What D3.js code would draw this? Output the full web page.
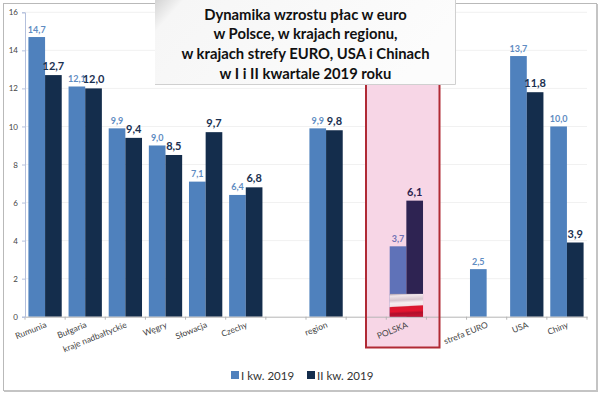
<!DOCTYPE html>
<html><head><meta charset="utf-8">
<script src="https://cdn.jsdelivr.net/npm/d3@7"></script>
<style>html,body{margin:0;padding:0;background:#fff}svg{display:block}text{font-family:Lato,"Open Sans",sans-serif}</style>
</head><body><div id="c"></div>
<script>
const categories=["Rumunia","Bułgaria","kraje nadbałtyckie","Węgry","Słowacja","Czechy","","region","","POLSKA","","strefa EURO","USA","Chiny"];
const q1Values=[14.7,12.1,9.9,9.0,7.1,6.4,null,9.9,null,3.7,null,2.5,13.7,10.0];
const q2Values=[12.7,12.0,9.4,8.5,9.7,6.8,null,9.8,null,6.1,null,null,11.8,3.9];
const seriesNames=["I kw. 2019","II kw. 2019"];
const yTicks=[0,2,4,6,8,10,12,14,16];
const titleLines=["Dynamika wzrostu płac w euro","w Polsce, w krajach regionu,","w krajach strefy EURO, USA i Chinach","w I i II kwartale 2019 roku"];
const highlightName="POLSKA";
const flagHeightValue=1.2;

const W=600,H=393;
const svg=d3.select("#c").append("svg").attr("width",W).attr("height",H);
const defs=svg.append("defs");
const sg=defs.append("linearGradient").attr("id","sh").attr("x1",0).attr("x2",1).attr("y1",0).attr("y2",0.25);
sg.append("stop").attr("offset",0).attr("stop-color","#d4d4d4");
sg.append("stop").attr("offset",0.09).attr("stop-color","#f6f6f6");
sg.append("stop").attr("offset",1).attr("stop-color","#fcfcfc");
const fg=defs.append("linearGradient").attr("id","flag").attr("x1",0).attr("x2",0.08).attr("y1",0).attr("y2",1);
[[0,"#a698a8"],[0.1,"#f1e6ea"],[0.3,"#d6c6cf"],[0.42,"#f6edf0"],[0.55,"#f2e4e8"],[0.6,"#d8182f"],[0.78,"#e5142f"],[0.88,"#b0102c"],[1,"#c41230"]]
 .forEach(([o,c])=>fg.append("stop").attr("offset",o).attr("stop-color",c));

const x=d3.scaleBand().domain(d3.range(categories.length)).range([25,587]);
const y=d3.scaleLinear().domain([0,16]).range([316.7,12.3]);
const sub=d3.scaleBand().domain([0,1]).range([0,x.bandwidth()]).paddingOuter(0.205).paddingInner(0);
const colors=["#4f81bd","#142d4c"];
const hiColors=["#5f72b8","#2e2352"];
const labelColors=["#5f8cc2","#1a3050"];
const hi=categories.indexOf(highlightName);

// frame
svg.append("rect").attr("x",3.5).attr("y",3.5).attr("width",593).attr("height",387).attr("fill","#fff").attr("stroke","#b9b9b9").attr("stroke-width",1);
svg.append("path").attr("d","M4 391H597V4").attr("fill","none").attr("stroke","#c4c4c4").attr("stroke-width",2);

// grid
svg.append("g").selectAll("line").data(yTicks.filter(d=>d>0)).join("line")
 .attr("x1",25).attr("x2",587).attr("y1",d=>y(d)).attr("y2",d=>y(d)).attr("stroke","#f1f1f1");

// highlight fill
svg.append("rect").attr("x",366).attr("y",60).attr("width",73.5).attr("height",287.5).attr("fill","#f7d6e6");

// bars
const s0=svg.append("g"),data=[q1Values,q2Values];
data.forEach((vals,s)=>{
 s0.append("g").selectAll("rect").data(vals.map((v,i)=>({v,i})).filter(d=>d.v!=null)).join("rect")
  .attr("x",d=>x(d.i)+sub(s)).attr("width",sub.bandwidth())
  .attr("y",d=>y(d.v)).attr("height",d=>y(0)-y(d.v)).attr("fill",d=>d.i===hi?hiColors[s]:colors[s]);
});

// axes
const ax=svg.append("g").attr("transform",`translate(0,${y(0)})`)
 .call(d3.axisBottom(x).tickSize(0).tickFormat(""));
ax.select(".domain").attr("stroke","#b5b5b5");
ax.selectAll(".tick").remove();
svg.append("g").selectAll("line").data(d3.range(categories.length+1)).join("line")
 .attr("x1",i=>25+i*x.step()).attr("x2",i=>25+i*x.step()).attr("y1",y(0)).attr("y2",y(0)+3).attr("stroke","#b5b5b5");
const ay=svg.append("g").attr("transform","translate(25,0)")
 .call(d3.axisLeft(y).tickValues(yTicks).tickSize(3).tickPadding(4));
ay.select(".domain").attr("stroke","#b4c0dc");
ay.selectAll("line").attr("stroke","#b4c0dc");
ay.selectAll("text").attr("font-size",8).attr("fill","#444").style("font-family","Lato");

// flag and highlight outline
svg.append("rect").attr("x",x(hi)+sub(0)).attr("width",sub.bandwidth()*2)
 .attr("y",y(flagHeightValue)).attr("height",y(0)-y(flagHeightValue)).attr("fill","url(#flag)");
svg.append("rect").attr("x",366).attr("y",60).attr("width",73.5).attr("height",287.5)
 .attr("fill","none").attr("stroke","#b02a35").attr("stroke-width",2);

// category labels
svg.append("g").selectAll("text").data(categories).join("text")
 .attr("transform",(d,i)=>`translate(${x(i)+x.bandwidth()/2+2},327) rotate(-22)`)
 .attr("text-anchor","end").attr("font-size",8.5).attr("fill","#444").text(d=>d);

// data labels
const fmt=d=>d.toFixed(1).replace(".",",");
data.forEach((vals,s)=>{
 svg.append("g").selectAll("text").data(vals.map((v,i)=>({v,i})).filter(d=>d.v!=null)).join("text")
  .attr("x",d=>x(d.i)+sub(s)+sub.bandwidth()/2).attr("y",d=>y(d.v)-(s?5:4.5))
  .attr("text-anchor","middle").attr("font-size",s?11:9).attr("font-weight",700)
  .attr("fill",d=>d.i===hi?(s?"#2d1f4f":"#7072b4"):labelColors[s]).text(d=>fmt(d.v));
});

// title box
svg.append("rect").attr("x",155).attr("y",0).attr("width",300).attr("height",84).attr("fill","url(#sh)");
svg.append("path").attr("d","M155 84.5H455.5V0").attr("fill","none").attr("stroke","#d0d0d0");
svg.append("g").selectAll("text").data(titleLines).join("text")
 .attr("x",305.5).attr("y",(d,i)=>19.8+i*19.6).attr("text-anchor","middle")
 .attr("font-size",14.8).attr("font-weight",700).attr("fill","#111").text(d=>d);

// legend
const legendX=[231,307];
const lg=svg.append("g").selectAll("g").data(seriesNames).join("g").attr("transform",(d,i)=>`translate(${legendX[i]},371)`);
lg.append("rect").attr("width",8).attr("height",8).attr("fill",(d,i)=>colors[i]);
lg.append("text").attr("x",10).attr("y",8.5).attr("font-size",11.5).attr("fill","#333").text(d=>d);
</script></body></html>
